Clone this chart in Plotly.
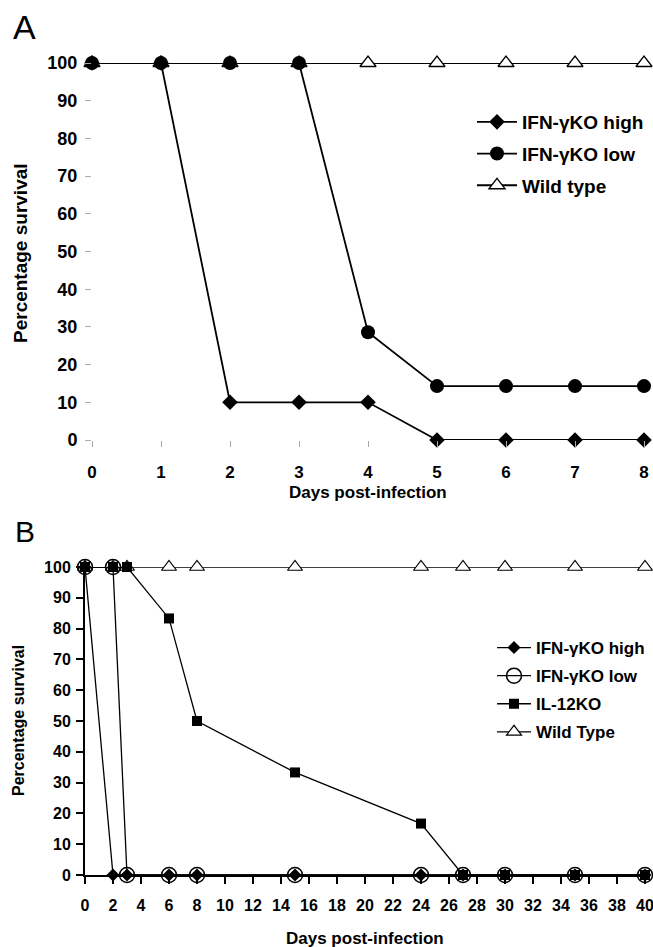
import plotly.graph_objects as go

# ---------- Panel A data ----------
days_a = [0, 1, 2, 3, 4, 5, 6, 7, 8]
a_ifn_high = [100, 100, 10, 10, 10, 0, 0, 0, 0]
a_ifn_low = [100, 100, 100, 100, 28.6, 14.3, 14.3, 14.3, 14.3]
a_wild = [100, 100, 100, 100, 100, 100, 100, 100, 100]
a_names = ["IFN-γKO high", "IFN-γKO low", "Wild type"]

# ---------- Panel B data ----------
b_ifn_high_x = [0, 2, 3, 6, 8, 15, 24, 27, 30, 35, 40]
b_ifn_high = [100, 0, 0, 0, 0, 0, 0, 0, 0, 0, 0]
b_ifn_low_x = [0, 2, 3, 6, 8, 15, 24, 27, 30, 35, 40]
b_ifn_low = [100, 100, 0, 0, 0, 0, 0, 0, 0, 0, 0]
b_il12_x = [0, 2, 3, 6, 8, 15, 24, 27, 30, 35, 40]
b_il12 = [100, 100, 100, 83.3, 50, 33.3, 16.7, 0, 0, 0, 0]
b_wild_x = [0, 2, 3, 6, 8, 15, 24, 27, 30, 35, 40]
b_wild = [100, 100, 100, 100, 100, 100, 100, 100, 100, 100, 100]
b_names = ["IFN-γKO high", "IFN-γKO low", "IL-12KO", "Wild Type"]

y_ticks = list(range(0, 101, 10))
x_ticks_b = list(range(0, 41, 2))

W, H = 653, 947
FONT = "Liberation Sans, Arial, sans-serif"


def px(x):
    return x / W


def py(y):
    return 1 - y / H


fig = go.Figure()

# Panel A traces (wild type drawn first so the filled markers sit on top)
fig.add_trace(go.Scatter(x=days_a, y=a_wild, name=a_names[2], mode="lines+markers",
                         line=dict(color="black", width=1.8),
                         marker=dict(symbol="triangle-up", size=14, color="white",
                                     line=dict(color="black", width=1.3)),
                         xaxis="x", yaxis="y", legend="legend", legendgroup="a3",
                         legendrank=3, cliponaxis=False))
fig.add_trace(go.Scatter(x=days_a, y=a_ifn_high, name=a_names[0], mode="lines+markers",
                         line=dict(color="black", width=1.8),
                         marker=dict(symbol="diamond", size=12, color="black"),
                         xaxis="x", yaxis="y", legend="legend", legendgroup="a1",
                         legendrank=1, cliponaxis=False))
fig.add_trace(go.Scatter(x=days_a, y=a_ifn_low, name=a_names[1], mode="lines+markers",
                         line=dict(color="black", width=1.8),
                         marker=dict(symbol="circle", size=14, color="black"),
                         xaxis="x", yaxis="y", legend="legend", legendgroup="a2",
                         legendrank=2, cliponaxis=False))

# Panel B traces
fig.add_trace(go.Scatter(x=b_wild_x, y=b_wild, name=b_names[3], mode="lines+markers",
                         line=dict(color="black", width=1.3),
                         marker=dict(symbol="triangle-up", size=13, color="white",
                                     line=dict(color="black", width=1.2)),
                         xaxis="x2", yaxis="y2", legend="legend2", legendgroup="b4",
                         legendrank=4, cliponaxis=False))
fig.add_trace(go.Scatter(x=b_ifn_high_x, y=b_ifn_high, name=b_names[0], mode="lines+markers",
                         line=dict(color="black", width=1.3),
                         marker=dict(symbol="diamond", size=10, color="black"),
                         xaxis="x2", yaxis="y2", legend="legend2", legendgroup="b1",
                         legendrank=1, cliponaxis=False))
fig.add_trace(go.Scatter(x=b_ifn_low_x, y=b_ifn_low, name=b_names[1], mode="lines+markers",
                         line=dict(color="black", width=1.3),
                         marker=dict(symbol="circle-open", size=15, color="black",
                                     line=dict(color="black", width=1.5)),
                         xaxis="x2", yaxis="y2", legend="legend2", legendgroup="b2",
                         legendrank=2, cliponaxis=False))
fig.add_trace(go.Scatter(x=b_il12_x, y=b_il12, name=b_names[2], mode="lines+markers",
                         line=dict(color="black", width=1.3),
                         marker=dict(symbol="square", size=10, color="black"),
                         xaxis="x2", yaxis="y2", legend="legend2", legendgroup="b3",
                         legendrank=3, cliponaxis=False))

tickA = dict(family=FONT, size=18, color="black", weight="bold")
tickAx = dict(family=FONT, size=17, color="black", weight="bold")
tickB = dict(family=FONT, size=16, color="black", weight="bold")

fig.update_layout(
    width=W, height=H,
    margin=dict(l=0, r=0, t=0, b=0, autoexpand=False),
    paper_bgcolor="white", plot_bgcolor="white",
    font=dict(family=FONT, color="black"),
    xaxis=dict(domain=[px(92), px(644)], range=[0, 8], tickvals=days_a,
               showgrid=False, zeroline=False, showline=False, automargin=False,
               ticks="outside", ticklen=6, tickcolor="#aaaaaa", tickwidth=1,
               tickfont=tickAx, ticklabelstandoff=11, ticklabeloverflow="allow", anchor="y"),
    yaxis=dict(domain=[py(440), py(63)], range=[0, 100], tickvals=y_ticks,
               showgrid=False, zeroline=False, showline=False, automargin=False,
               ticks="outside", ticklen=6, tickcolor="#aaaaaa", tickwidth=1,
               tickfont=tickA, ticklabelstandoff=4, ticklabeloverflow="allow", anchor="x"),
    xaxis2=dict(domain=[px(85), px(645)], range=[0, 40], tickvals=x_ticks_b,
                showgrid=False, zeroline=False, showline=True, linecolor="black", linewidth=2,
                automargin=False,
                ticks="outside", ticklen=7, tickcolor="black", tickwidth=1.5,
                tickfont=tickB, ticklabelstandoff=8, ticklabeloverflow="allow", anchor="y2"),
    yaxis2=dict(domain=[py(875), py(567)], range=[0, 100], tickvals=y_ticks,
                showgrid=False, zeroline=False, showline=True, linecolor="black", linewidth=2,
                automargin=False,
                ticks="outside", ticklen=7, tickcolor="black", tickwidth=1.5,
                tickfont=tickB, ticklabelstandoff=2, ticklabeloverflow="allow", anchor="x2"),
    legend=dict(x=px(472), y=py(103), xanchor="left", yanchor="top",
                font=dict(family=FONT, size=19, color="black", weight="bold"),
                bgcolor="rgba(0,0,0,0)", tracegroupgap=4, itemwidth=40),
    legend2=dict(x=px(492), y=py(630), xanchor="left", yanchor="top",
                 font=dict(family=FONT, size=17, color="black", weight="bold"),
                 bgcolor="rgba(0,0,0,0)", tracegroupgap=3, itemwidth=34),
    showlegend=True,
)

annos = [
    dict(text="A", x=px(25), y=py(27), font=dict(family=FONT, size=34, color="black")),
    dict(text="B", x=px(25), y=py(531), font=dict(family=FONT, size=30, color="black")),
    dict(text="Percentage survival", x=px(21), y=py(253), textangle=-90,
         font=dict(family=FONT, size=19, color="black", weight="bold")),
    dict(text="Days post-infection", x=px(368), y=py(492),
         font=dict(family=FONT, size=17, color="black", weight="bold")),
    dict(text="Percentage survival", x=px(18), y=py(721), textangle=-90,
         font=dict(family=FONT, size=16, color="black", weight="bold")),
    dict(text="Days post-infection", x=px(365), y=py(938),
         font=dict(family=FONT, size=17, color="black", weight="bold")),
]
for a in annos:
    fig.add_annotation(xref="paper", yref="paper", showarrow=False,
                       xanchor="center", yanchor="middle", **a)

fig.write_html("out.html", config={"displayModeBar": False},
               post_script="document.body.style.margin='0';document.body.style.overflow='hidden';")
